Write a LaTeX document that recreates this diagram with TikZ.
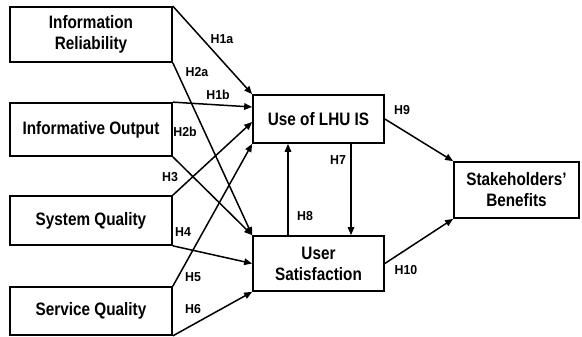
\documentclass[tikz,border=0pt]{standalone}
\usepackage{fontspec}
\setmainfont{Liberation Sans}
\newfontfamily\boxfont[FakeStretch=0.85]{Liberation Sans}
\newfontfamily\hypfont[FakeStretch=0.95]{Liberation Sans}
\usetikzlibrary{arrows.meta,calc}
\begin{document}
\begin{tikzpicture}[x=1pt,y=-1pt,
  box/.style={draw,line width=1.7pt,inner sep=0pt,align=center,
    font=\boxfont\fontsize{18}{21}\selectfont\bfseries},
  conn/.style={line width=1.5pt,-{Triangle[length=8pt,width=6.5pt]}},
  hyp/.style={font=\hypfont\fontsize{13}{14}\selectfont\bfseries,inner sep=0pt}]
\useasboundingbox (0,0) rectangle (582,337);
\node[box,minimum width=162pt,minimum height=55pt] (ir) at (91,34.5) {Information\\Reliability};
\node[box,minimum width=162pt,minimum height=53pt] (io) at (91,129.5) {Informative Output};
\node[box,minimum width=162pt,minimum height=49pt] (sq) at (91,220.5) {System Quality};
\node[box,minimum width=162pt,minimum height=48pt] (svq) at (91,311) {Service Quality};
\node[box,minimum width=131pt,minimum height=48pt] (use) at (318.5,119) {Use of LHU IS};
\node[box,minimum width=131pt,minimum height=55pt] (us) at (318.5,263.5) {User\\Satisfaction};
\node[box,minimum width=125pt,minimum height=56pt] (sb) at (516.5,190) {Stakeholders’\\Benefits};
\coordinate (h7x) at (351,0);
\coordinate (h8x) at (288,0);
% arrows to Use
\draw[conn] (ir.north east) -- (use.north west);
\draw[conn] (io.north east) -- ([yshift=12pt]use.west);
\draw[conn] (sq.north east) -- ([yshift=-3pt]use.west);
\draw[conn] (svq.north east) -- (use.south west);
% arrows to User Satisfaction
\draw[conn] (ir.south east) -- (us.north west);
\draw[conn] (io.south east) -- (us.north west);
\draw[conn] (sq.south east) -- (us.west);
\draw[conn] (svq.south east) -- (us.south west);
% between Use and US
\draw[conn] (use.south -| h7x) -- (us.north -| h7x);
\draw[conn] (us.north -| h8x) -- (use.south -| h8x);
% to benefits
\draw[conn] (use.east) -- (sb.north west);
\draw[conn] (us.east) -- (sb.south west);
% labels
\node[hyp] (l1a) at (222,39) {H1a};
\node[hyp] (l2a) at (197,72) {H2a};
\node[hyp] (l1b) at (218,95) {H1b};
\node[hyp] (l2b) at (185,132) {H2b};
\node[hyp] (l3) at (170,177) {H3};
\node[hyp] (l4) at (183,232) {H4};
\node[hyp] (l5) at (193,277) {H5};
\node[hyp] (l6) at (193,309) {H6};
\node[hyp] (l7) at (338,160) {H7};
\node[hyp] (l8) at (305,216) {H8};
\node[hyp] (l9) at (402,110) {H9};
\node[hyp] (l10) at (406,270) {H10};
\end{tikzpicture}
\end{document}
